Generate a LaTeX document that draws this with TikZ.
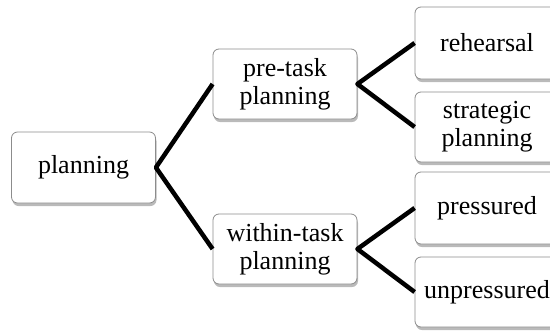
\documentclass[tikz,border=0pt]{standalone}
\usepackage{fontspec}
\setmainfont{Liberation Serif}
\usetikzlibrary{shadows}
\begin{document}
\begin{tikzpicture}[x=1pt,y=-1pt,
  box/.style={draw=black!45, line width=0.8pt, fill=white, rounded corners=6pt,
    minimum width=144pt, inner sep=0pt, align=center,
    font=\fontsize{26}{28}\selectfont,
    drop shadow={shadow xshift=1pt, shadow yshift=-3pt, opacity=0.45, fill=black!60}},
  conn/.style={line width=4.5pt, black, line join=round}]
\useasboundingbox (0,0) rectangle (550,330);
\node[box, minimum height=71pt] (planning) at (83.5,167.5) {planning};
\node[box, minimum height=70pt] (pretask) at (285,84) {pre-task\\planning};
\node[box, minimum height=70pt] (within) at (285,249) {within-task\\planning};
\node[box, minimum height=72pt] (rehearsal) at (487,43) {rehearsal};
\node[box, minimum height=70pt] (strategic) at (487,127) {strategic\\planning};
\node[box, minimum height=72pt] (pressured) at (487,208) {pressured};
\node[box, minimum height=70pt] (unpressured) at (487,292) {unpressured};
\draw[conn] (pretask.west) -- (planning.east) -- (within.west);
\draw[conn] (rehearsal.west) -- (pretask.east) -- (strategic.west);
\draw[conn] (pressured.west) -- (within.east) -- (unpressured.west);
\end{tikzpicture}
\end{document}
